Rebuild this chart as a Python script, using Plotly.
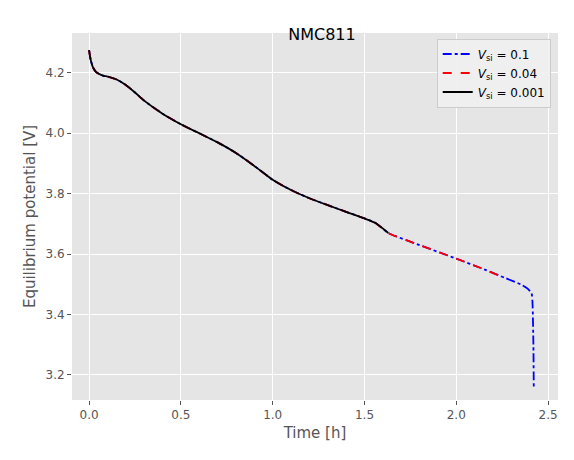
import plotly.graph_objects as go

# time [h] and equilibrium potential [V]
time_h = [0.0, 0.005, 0.01, 0.02, 0.035, 0.05, 0.08, 0.1, 0.15, 0.2, 0.25, 0.3, 0.4, 0.5,
          0.6, 0.7, 0.8, 0.9, 1.0, 1.1, 1.2, 1.3, 1.4, 1.5, 1.56, 1.63, 1.8, 2.0, 2.15,
          2.27, 2.35, 2.39, 2.41, 2.415, 2.42, 2.422]
volt = [4.275, 4.255, 4.24, 4.22, 4.205, 4.198, 4.19, 4.188, 4.178, 4.16, 4.135, 4.108,
        4.065, 4.03, 4.0, 3.97, 3.935, 3.892, 3.846, 3.812, 3.785, 3.762, 3.74, 3.718,
        3.703, 3.67, 3.63, 3.585, 3.55, 3.52, 3.5, 3.485, 3.47, 3.44, 3.3, 3.16]

t_end = {"0.1": 2.422, "0.04": 2.27, "0.001": 1.63}
styles = {"0.1": ("blue", "dashdot"), "0.04": ("red", "dash"), "0.001": ("black", "solid")}

fig = go.Figure()
for v in ["0.1", "0.04", "0.001"]:
    xs = [t for t in time_h if t <= t_end[v] + 1e-9]
    ys = volt[:len(xs)]
    color, dash = styles[v]
    fig.add_trace(go.Scatter(x=xs, y=ys, mode="lines", name=f"<i>V</i><sub>si</sub> = {v}",
                             line=dict(color=color, dash=dash, width=1.8, shape="spline", smoothing=0.6)))

axis = dict(showgrid=True, gridcolor="white", gridwidth=1, zeroline=False, showline=False,
            ticks="outside", ticklen=4, tickcolor="#555", tickfont=dict(color="#555", size=12),
            title_font=dict(color="#555", size=15), automargin=False)
fig.update_xaxes(axis, range=[-0.093, 2.554], tickvals=[0, 0.5, 1, 1.5, 2, 2.5],
                 ticktext=["0.0", "0.5", "1.0", "1.5", "2.0", "2.5"], title_text="Time [h]",
                 title_standoff=6)
fig.update_yaxes(axis, range=[3.117, 4.332], tickvals=[3.2, 3.4, 3.6, 3.8, 4.0, 4.2],
                 ticktext=["3.2", "3.4", "3.6", "3.8", "4.0", "4.2"],
                 title_text="Equilibrium potential [V]", title_standoff=6)
fig.update_layout(
    width=574, height=460, template="none",
    font=dict(family="DejaVu Sans"),
    title=dict(text="NMC811", x=0.547, xanchor="center", y=0.955, font=dict(size=16, color="black")),
    plot_bgcolor="#E5E5E5", paper_bgcolor="white",
    margin=dict(l=64, r=24, t=25, b=68),
    legend=dict(x=0.985, y=0.985, xanchor="right", yanchor="top", bgcolor="rgba(240,240,240,0.9)",
                bordercolor="#ccc", borderwidth=1, font=dict(size=12, color="black")),
)
fig.write_html("out.html")
